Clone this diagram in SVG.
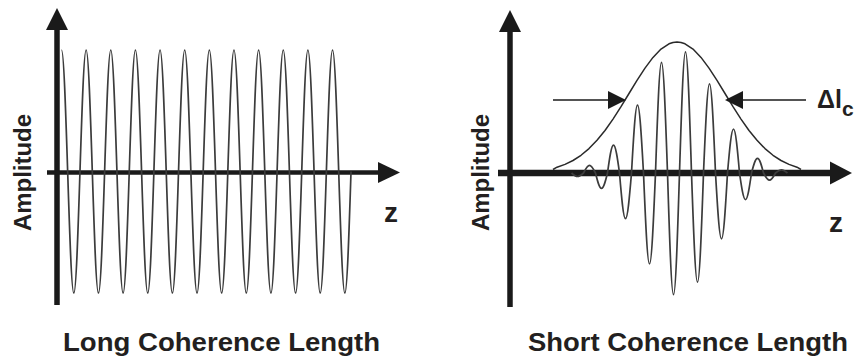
<svg xmlns="http://www.w3.org/2000/svg" width="861" height="358" viewBox="0 0 861 358">
<style>
.bg{fill:#ffffff}
.axis{stroke:#1a1a1a;fill:none}
.ah{fill:#1a1a1a}
.wave{stroke:#3c3c3c;stroke-width:1.7;fill:none;stroke-linejoin:round}
.env{stroke:#2a2a2a;stroke-width:1.5;fill:none;stroke-linejoin:round}
.thin{stroke:#1a1a1a;stroke-width:1.5;fill:none}
.lbl{font-family:"Liberation Sans",Arial,Helvetica,sans-serif;font-weight:bold;fill:#231f20}
</style>
<rect class="bg" x="0" y="0" width="861" height="358"/>
<g id="left-plot">
  <g id="left-axes">
    <line class="axis" x1="57" y1="29" x2="57" y2="305" stroke-width="5.5"/>
    <polygon class="ah" points="46,30 57,8 68,30"/>
    <line class="axis" x1="47" y1="172.5" x2="380" y2="172.5" stroke-width="4.5"/>
    <polygon class="ah" points="378,162 400,172.5 378,183"/>
  </g>
  <path id="left-wave" class="wave" d="M61.5,50 c2.229,0 4.151,59.26 6.16,121.5 s3.931,121.5 6.16,121.5 s4.151,-59.26 6.16,-121.5 s3.931,-121.5 6.16,-121.5
  s4.151,59.26 6.16,121.5 s3.931,121.5 6.16,121.5 s4.151,-59.26 6.16,-121.5 s3.931,-121.5 6.16,-121.5
  s4.151,59.26 6.16,121.5 s3.931,121.5 6.16,121.5 s4.151,-59.26 6.16,-121.5 s3.931,-121.5 6.16,-121.5
  s4.151,59.26 6.16,121.5 s3.931,121.5 6.16,121.5 s4.151,-59.26 6.16,-121.5 s3.931,-121.5 6.16,-121.5
  s4.151,59.26 6.16,121.5 s3.931,121.5 6.16,121.5 s4.151,-59.26 6.16,-121.5 s3.931,-121.5 6.16,-121.5
  s4.151,59.26 6.16,121.5 s3.931,121.5 6.16,121.5 s4.151,-59.26 6.16,-121.5 s3.931,-121.5 6.16,-121.5
  s4.151,59.26 6.16,121.5 s3.931,121.5 6.16,121.5 s4.151,-59.26 6.16,-121.5 s3.931,-121.5 6.16,-121.5
  s4.151,59.26 6.16,121.5 s3.931,121.5 6.16,121.5 s4.151,-59.26 6.16,-121.5 s3.931,-121.5 6.16,-121.5
  s4.151,59.26 6.16,121.5 s3.931,121.5 6.16,121.5 s4.151,-59.26 6.16,-121.5 s3.931,-121.5 6.16,-121.5
  s4.151,59.26 6.16,121.5 s3.931,121.5 6.16,121.5 s4.151,-59.26 6.16,-121.5 s3.931,-121.5 6.16,-121.5
  s4.151,59.26 6.16,121.5 s3.931,121.5 6.16,121.5 s4.151,-59.26 6.16,-121.5 s3.931,-121.5 6.16,-121.5
  s4.151,59.26 6.16,121.5 s3.931,121.5 6.16,121.5 s4.151,-59.26 6.16,-121.5"/>
  <g id="left-labels">
    <text class="lbl" font-size="23" text-anchor="middle" textLength="117" lengthAdjust="spacingAndGlyphs" transform="translate(31,172.5) rotate(-90)">Amplitude</text>
    <text class="lbl" font-size="28" x="384" y="222">z</text>
    <text class="lbl" font-size="25" x="63" y="350.5" textLength="317" lengthAdjust="spacingAndGlyphs">Long Coherence Length</text>
  </g>
</g>
<g id="right-plot">
  <g id="right-axes">
    <line class="axis" x1="510" y1="31" x2="510" y2="307" stroke-width="5.5"/>
    <polygon class="ah" points="499,32 510,10 521,32"/>
    <line class="axis" x1="498" y1="173" x2="832" y2="173" stroke-width="6.5"/>
    <polygon class="ah" points="830,161.5 852,173 830,184.5"/>
  </g>
  <polyline id="envelope" class="env" points="553,169.5 557,167.2 565,164.4 573,160.5 581,155.3 589,148.6 597,140.3 605,130.5 613,119.1 621,106.7 629,93.5 637,80.4 645,68.1 653,57.4 661,49.1 669,43.8 673,42.5 677,42 681,42.5 685,43.8 693,49.1 701,57.4 709,68.1 717,80.4 725,93.5 733,106.7 741,119.1 749,130.5 757,140.3 765,148.6 773,155.3 781,160.5 789,164.4 797,167.2 801,169.5"/>
  <path id="packet" class="wave" d="M571.5,173
  c1.957,1.79 3.829,3.5 6,3.5 c2.171,0 4.043,-1.71 6,-3.5
  c1.957,-3.94 3.829,-7.7 6,-7.7 c2.171,0 4.043,3.76 6,7.7
  c1.957,7.89 3.829,15.4 6,15.4 c2.171,0 4.043,-7.51 6,-15.4
  c1.957,-14.24 3.829,-27.8 6,-27.8 c2.171,0 4.043,13.56 6,27.8
  c1.957,23.36 3.829,45.6 6,45.6 c2.171,0 4.043,-22.24 6,-45.6
  c1.957,-34.73 3.829,-67.8 6,-67.8 c2.171,0 4.043,33.07 6,67.8
  c1.957,46.62 3.829,91 6,91 c2.171,0 4.043,-44.38 6,-91
  c1.957,-56.66 3.829,-110.6 6,-110.6 c2.171,0 4.043,53.94 6,110.6
  c1.957,62.35 3.829,121.7 6,121.7 c2.171,0 4.043,-59.35 6,-121.7
  c1.957,-62.09 3.829,-121.2 6,-121.2 c2.171,0 4.043,59.11 6,121.2
  c1.957,55.94 3.829,109.2 6,109.2 c2.171,0 4.043,-53.26 6,-109.2
  c1.957,-45.65 3.829,-89.1 6,-89.1 c2.171,0 4.043,43.45 6,89.1
  c1.957,33.71 3.829,65.8 6,65.8 c2.171,0 4.043,-32.09 6,-65.8
  c1.957,-22.54 3.829,-44 6,-44 c2.171,0 4.043,21.46 6,44
  c1.957,13.63 3.829,26.6 6,26.6 c2.171,0 4.043,-12.97 6,-26.6
  c1.957,-7.48 3.829,-14.6 6,-14.6 c2.171,0 4.043,7.12 6,14.6
  c1.957,3.69 3.829,7.2 6,7.2 c2.171,0 4.043,-3.51 6,-7.2
  c1.957,-1.64 3.829,-3.2 6,-3.2 c2.171,0 4.043,1.56 6,3.2"/>
  <g id="width-arrows">
    <line class="thin" x1="553" y1="100" x2="609" y2="100"/>
    <polygon class="ah" points="608,91 626,100 608,109"/>
    <line class="thin" x1="806" y1="100" x2="742" y2="100"/>
    <polygon class="ah" points="743,91 725,100 743,109"/>
  </g>
  <g id="right-labels">
    <text class="lbl" font-size="23" text-anchor="middle" textLength="117" lengthAdjust="spacingAndGlyphs" transform="translate(489,172.5) rotate(-90)">Amplitude</text>
    <text class="lbl" font-size="28" x="829" y="231.5">z</text>
    <text class="lbl" font-size="25" x="817" y="108">Δl<tspan font-size="21" dy="8">c</tspan></text>
    <text class="lbl" font-size="25" x="528" y="350.5" textLength="320" lengthAdjust="spacingAndGlyphs">Short Coherence Length</text>
  </g>
</g>
</svg>
